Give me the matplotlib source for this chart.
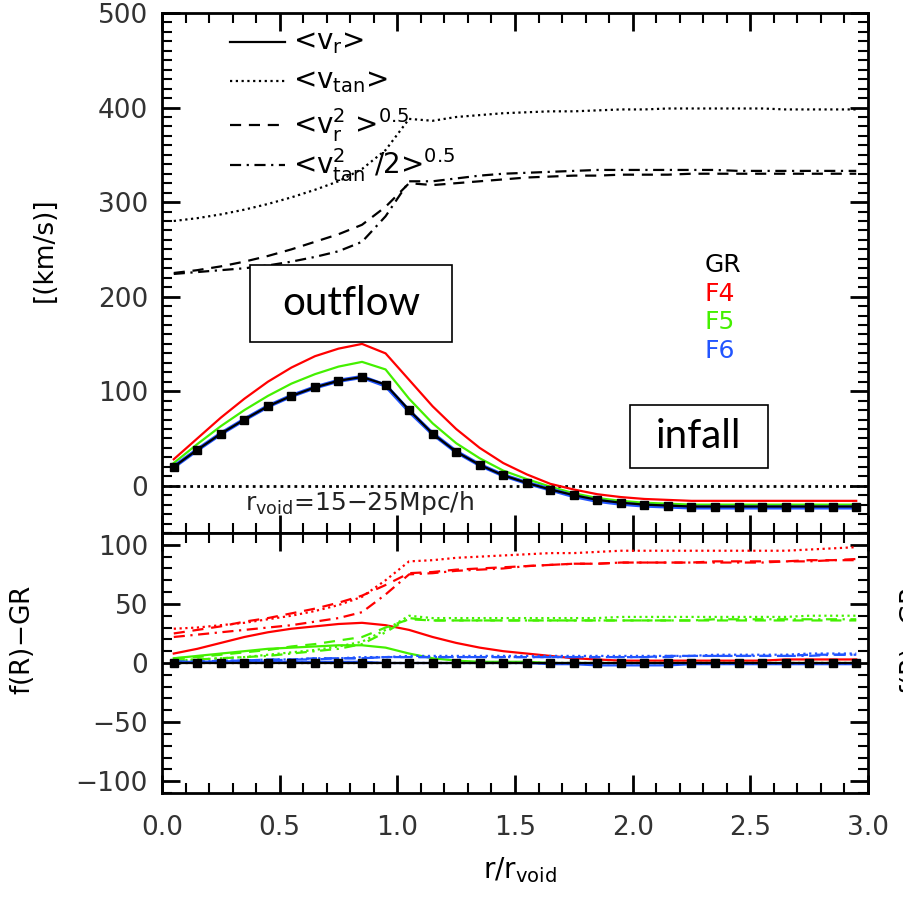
import matplotlib
matplotlib.use("Agg")
import matplotlib.pyplot as plt
from matplotlib.patches import Rectangle
from matplotlib.ticker import MultipleLocator

# radial bins r / r_void
r = [0.05, 0.15, 0.25, 0.35, 0.45, 0.55, 0.65, 0.75, 0.85, 0.95,
     1.05, 1.15, 1.25, 1.35, 1.45, 1.55, 1.65, 1.75, 1.85, 1.95,
     2.05, 2.15, 2.25, 2.35, 2.45, 2.55, 2.65, 2.75, 2.85, 2.95]

# upper panel: <v_r> for each model
vr_gr = [20, 38, 55, 70, 84, 95, 104, 111, 115, 107, 80, 55, 36, 22, 11, 3, -4, -10, -15, -18,
         -20, -21, -22, -22, -22, -22, -22, -22, -22, -22]
vr_f4 = [28, 50, 72, 92, 110, 125, 137, 145, 150, 140, 112, 84, 60, 40, 24, 12, 2, -4, -9, -12,
         -14, -15, -16, -16, -16, -16, -16, -16, -16, -16]
vr_f5 = [24, 44, 63, 80, 95, 108, 118, 126, 131, 123, 92, 66, 45, 29, 16, 7, -1, -8, -13, -16,
         -18, -19, -20, -20, -20, -20, -20, -20, -20, -20]
vr_f6 = [20, 38, 55, 70, 84, 95, 104, 111, 115, 106, 79, 55, 36, 22, 11, 3, -4, -11, -16, -19,
         -21, -22, -23, -23, -23, -23, -23, -23, -23, -23]

# upper panel: GR dispersions
vtan_gr = [280, 283, 287, 292, 298, 305, 313, 322, 335, 355, 388, 386, 390, 392, 394, 395, 396, 396, 397, 398,
           398, 399, 399, 399, 399, 399, 398, 398, 398, 398]
vr2_gr = [225, 228, 232, 237, 243, 250, 258, 266, 276, 295, 320, 318, 320, 322, 324, 326, 327, 328, 328, 329,
          329, 329, 330, 330, 330, 330, 330, 330, 330, 330]
vtan2_gr = [224, 226, 228, 230, 233, 237, 242, 248, 258, 285, 322, 322, 325, 328, 330, 331, 332, 333, 334, 334,
            334, 334, 334, 334, 333, 333, 333, 333, 333, 333]

# lower panel: f(R) - GR differences
d_vr_f4 = [8, 12, 17, 22, 26, 29, 31, 33, 34, 32, 28, 22, 17, 13, 10, 8, 6, 4, 3, 2,
           2, 2, 2, 2, 2, 2, 3, 3, 3, 3]
d_vtan_f4 = [29, 30, 32, 34, 37, 40, 44, 49, 56, 70, 86, 87, 89, 90, 91, 92, 93, 93, 94, 95,
             95, 95, 95, 95, 95, 95, 95, 96, 97, 98]
d_vr2_f4 = [25, 28, 31, 35, 38, 42, 46, 51, 57, 66, 76, 77, 79, 80, 81, 82, 83, 84, 84, 85,
            85, 85, 85, 86, 86, 86, 86, 87, 87, 88]
d_vtan2_f4 = [22, 24, 26, 28, 30, 32, 35, 38, 43, 58, 75, 76, 78, 79, 80, 82, 83, 84, 84, 85,
              85, 85, 85, 85, 85, 85, 86, 86, 87, 87]

d_vr_f5 = [4, 6, 8, 10, 12, 13, 14, 15, 15, 13, 8, 4, 2, 1, 1, 1, 0, 0, 0, 0,
           0, 0, 0, 0, 0, 0, 0, 0, 0, 0]
d_vtan_f5 = [2, 3, 4, 5, 7, 9, 11, 14, 18, 28, 40, 38, 38, 38, 38, 38, 38, 38, 38, 39,
             39, 39, 39, 39, 39, 39, 39, 40, 40, 40]
d_vr2_f5 = [4, 5, 7, 9, 11, 14, 16, 19, 22, 30, 37, 36, 36, 36, 36, 36, 36, 36, 36, 36,
            36, 36, 36, 36, 36, 36, 36, 36, 36, 36]
d_vtan2_f5 = [2, 3, 4, 5, 6, 8, 10, 12, 16, 26, 38, 36, 36, 36, 36, 36, 36, 36, 36, 36,
              36, 36, 36, 37, 37, 37, 37, 37, 37, 37]

d_vr_f6 = [1, 1, 1, 1, 1, 1, 1, 1, 1, 0, 0, 0, 0, 0, 0, 0, -1, -1, -2, -2,
           -2, -2, -1, -1, -1, -1, -1, -1, -1, -1]
d_vtan_f6 = [1, 1, 2, 2, 3, 3, 4, 4, 5, 5, 6, 6, 6, 6, 6, 6, 6, 6, 6, 6,
             6, 6, 6, 7, 7, 7, 7, 8, 8, 8]
d_vr2_f6 = [1, 1, 2, 2, 3, 3, 4, 4, 4, 5, 5, 5, 5, 5, 5, 5, 5, 5, 5, 5,
            5, 6, 6, 6, 6, 6, 6, 7, 7, 7]
d_vtan2_f6 = [1, 1, 1, 2, 2, 3, 3, 4, 4, 5, 5, 5, 5, 5, 5, 5, 5, 5, 5, 5,
              5, 5, 6, 6, 6, 6, 6, 6, 7, 7]
zeros = [0] * 30

models = ["GR", "F4", "F5", "F6"]
colors = {"GR": "black", "F4": "#ff0000", "F5": "#44f000", "F6": "#2255ff"}

ls_dot = (0, (1, 1.6))
ls_dash = (0, (5, 3.5))
ls_dashdot = (0, (5, 2.5, 1, 2.5))

plt.rcParams['font.family'] = ['DejaVu Sans']
plt.rcParams['mathtext.fontset'] = 'dejavusans'

fig = plt.figure(figsize=(9.04, 9.02), dpi=100)
W, H = 904, 902
left, right = 162 / W, 868 / W
ax1 = fig.add_axes([left, 1 - 533 / H, right - left, (533 - 13) / H])
ax2 = fig.add_axes([left, 1 - 793 / H, right - left, (793 - 533) / H])

lw = 1.6
# upper panel
ax1.axhline(0, color='black', ls=(0, (1, 1.5)), lw=2)
ax1.plot(r, vtan_gr, color='black', ls=ls_dot, lw=lw)
ax1.plot(r, vr2_gr, color='black', ls=ls_dash, lw=lw)
ax1.plot(r, vtan2_gr, color='black', ls=ls_dashdot, lw=lw)
ax1.plot(r, vr_f4, color=colors["F4"], lw=lw)
ax1.plot(r, vr_f5, color=colors["F5"], lw=lw)
ax1.plot(r, vr_f6, color=colors["F6"], lw=3)
ax1.plot(r, vr_gr, color='black', lw=lw, marker='s', ms=6)

# lower panel
for c, ys in [("F4", (d_vr_f4, d_vtan_f4, d_vr2_f4, d_vtan2_f4)),
              ("F5", (d_vr_f5, d_vtan_f5, d_vr2_f5, d_vtan2_f5)),
              ("F6", (d_vr_f6, d_vtan_f6, d_vr2_f6, d_vtan2_f6))]:
    ax2.plot(r, ys[1], color=colors[c], ls=ls_dot, lw=lw)
    ax2.plot(r, ys[2], color=colors[c], ls=ls_dash, lw=lw)
    ax2.plot(r, ys[3], color=colors[c], ls=ls_dashdot, lw=lw)
    ax2.plot(r, ys[0], color=colors[c], lw=lw)
ax2.plot(r, zeros, color='black', ls=ls_dot, lw=lw)
ax2.plot(r, zeros, color='black', lw=lw, marker='s', ms=6)

ax1.set_xlim(0, 3)
ax2.set_xlim(0, 3)
ax1.set_ylim(-50, 500)
ax2.set_ylim(-110, 110)

for ax in (ax1, ax2):
    for s in ax.spines.values():
        s.set_linewidth(2)
    ax.xaxis.set_major_locator(MultipleLocator(0.5))
    ax.xaxis.set_minor_locator(MultipleLocator(0.1))
    ax.tick_params(which='both', direction='in', top=True, right=True,
                   labelsize=19, labelcolor='#333333')
    ax.tick_params(which='major', length=13, width=2, pad=10)
    ax.tick_params(which='minor', length=7, width=1.5)
ax1.yaxis.set_major_locator(MultipleLocator(100))
ax1.yaxis.set_minor_locator(MultipleLocator(10))
ax2.yaxis.set_major_locator(MultipleLocator(50))
ax2.yaxis.set_minor_locator(MultipleLocator(10))
ax2.set_yticks([-100, -50, 0, 50, 100])
ax1.tick_params(axis='x', labelbottom=False)
ax2.tick_params(axis='x', pad=16)
ax2.xaxis.set_major_formatter(matplotlib.ticker.FormatStrFormatter('%.1f'))

# legend of line styles
leg_rows = [("-", r"<v$_{\rm r}$>", 0.944),
            (ls_dot, r"<v$_{\rm tan}$>", 0.869),
            (ls_dash, r"<v$^2_{\rm r}$ >$^{0.5}$", 0.785),
            (ls_dashdot, r"<v$^2_{\rm tan}$ /2>$^{0.5}$", 0.708)]
for ls, lab, yy in leg_rows:
    ax1.plot([0.096, 0.174], [yy, yy], transform=ax1.transAxes, color='black', ls=ls, lw=lw)
    ax1.text(0.186, yy, lab, transform=ax1.transAxes, fontsize=20, va='center', ha='left')

# model labels
for i, m in enumerate(models):
    ax1.text(0.769, 0.515 - i * 0.055, m, transform=ax1.transAxes, color=colors[m],
             fontsize=18, va='center', ha='left')

ax1.text(0.117, 0.044, r"r$_{\rm void}$=15$-$25Mpc/h", transform=ax1.transAxes,
         fontsize=18, va='baseline', ha='left', color='#222222')

# annotation boxes
for (x0, y0, x1, y1), txt in [((250, 265, 452, 342), "outflow"), ((630, 405, 768, 468), "infall")]:
    fig.patches.append(Rectangle((x0 / W, 1 - y1 / H), (x1 - x0) / W, (y1 - y0) / H,
                                 transform=fig.transFigure, fill=True, facecolor='white',
                                 edgecolor='black', lw=1.2, zorder=5))
    fig.text((x0 + x1) / 2 / W, 1 - (y0 + y1) / 2 / H, txt, fontsize=29, family='Lato',
             ha='center', va='center', zorder=6)

fig.text(45 / W, 1 - 250 / H, "[(km/s)]", rotation=90, fontsize=19, ha='center', va='center')
fig.text(22 / W, 1 - 640 / H, "f(R)$-$GR", rotation=90, fontsize=19, ha='center', va='center')
fig.text(898 / W, 1 - 640 / H, "f(R)$-$GR", rotation=90, fontsize=19, ha='left', va='center')
fig.text(520 / W, 1 - 870 / H, r"r/r$_{\rm void}$", fontsize=20, ha='center', va='center')

fig.savefig("out.png", dpi=100)
